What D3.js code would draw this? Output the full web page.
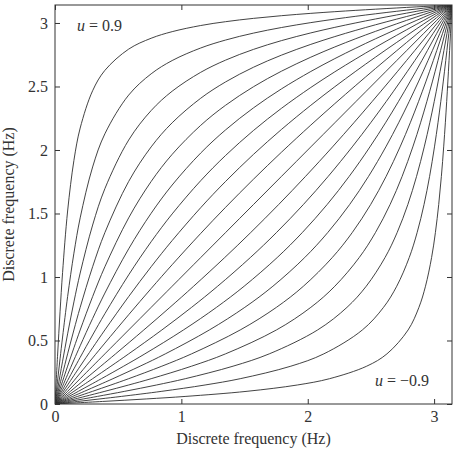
<!DOCTYPE html>
<html>
<head>
<meta charset="utf-8">
<script src="https://cdnjs.cloudflare.com/ajax/libs/d3/7.8.5/d3.min.js"></script>
<style>
  body { margin: 0; background: #fff; }
  text { font-family: "Liberation Serif", "Times New Roman", serif; fill: #333; }
</style>
</head>
<body>
<div id="chart"></div>
<script>
// input frequency grid (rad), shared by all curves
const freq = [0, 0.0200, 0.0400, 0.0600, 0.0999, 0.1497, 0.1993, 0.2978, 0.3948, 0.5829, 0.7610, 0.9273,
    1.1528, 1.3495, 1.5708, 1.7921, 2.0244, 2.2143, 2.3806, 2.5358, 2.7043, 2.8578, 2.9753, 3.0616, 3.1416];

// warped frequency for positive u (u = 0.1 ... 0.9)
const warp01 = [0, 0.0244, 0.0489, 0.0733, 0.1221, 0.1828, 0.2432, 0.3626, 0.4795, 0.7029, 0.9094, 1.0971,
    1.3427, 1.5483, 1.7701, 1.9825, 2.1962, 2.3650, 2.5090, 2.6410, 2.7819, 2.9089, 3.0054, 3.0762, 3.1416];
const warp02 = [0, 0.0300, 0.0600, 0.0899, 0.1497, 0.2241, 0.2978, 0.4426, 0.5829, 0.8457, 1.0808, 1.2870,
    1.5455, 1.7521, 1.9656, 2.1617, 2.3520, 2.4981, 2.6204, 2.7308, 2.8474, 2.9517, 3.0306, 3.0883, 3.1416];
const warp03 = [0, 0.0371, 0.0743, 0.1113, 0.1852, 0.2768, 0.3672, 0.5434, 0.7113, 1.0166, 1.2778, 1.4968,
    1.7580, 1.9567, 2.1537, 2.3281, 2.4923, 2.6156, 2.7173, 2.8082, 2.9034, 2.9880, 3.0519, 3.0985, 3.1416];
const warp04 = [0, 0.0467, 0.0933, 0.1398, 0.2323, 0.3465, 0.4585, 0.6734, 0.8733, 1.2215, 1.5019, 1.7243,
    1.9758, 2.1580, 2.3318, 2.4810, 2.6182, 2.7194, 2.8020, 2.8753, 2.9517, 3.0193, 3.0702, 3.1073, 3.1416];
const warp05 = [0, 0.0600, 0.1199, 0.1795, 0.2978, 0.4426, 0.5829, 0.8457, 1.0808, 1.4656, 1.7521, 1.9656,
    2.1939, 2.3520, 2.4981, 2.6204, 2.7308, 2.8113, 2.8765, 2.9340, 2.9937, 3.0464, 3.0861, 3.1149, 3.1416];
const warp06 = [0, 0.0800, 0.1597, 0.2389, 0.3948, 0.5829, 0.7610, 1.0808, 1.3495, 1.7521, 2.0244, 2.2143,
    2.4072, 2.5358, 2.6516, 2.7468, 2.8316, 2.8929, 2.9423, 2.9857, 3.0306, 3.0702, 3.0999, 3.1216, 3.1416];
const warp07 = [0, 0.1132, 0.2257, 0.3368, 0.5522, 0.8037, 1.0311, 1.4090, 1.6956, 2.0781, 2.3106, 2.4630,
    2.6114, 2.7074, 2.7922, 2.8611, 2.9219, 2.9656, 3.0007, 3.0314, 3.0632, 3.0912, 3.1122, 3.1275, 3.1416];
const warp08 = [0, 0.1795, 0.3562, 0.5274, 0.8457, 1.1875, 1.4656, 1.8665, 2.1274, 2.4322, 2.5997, 2.7043,
    2.8030, 2.8656, 2.9203, 2.9643, 3.0029, 3.0306, 3.0528, 3.0722, 3.0922, 3.1098, 3.1231, 3.1327, 3.1416];
const warp09 = [0, 0.3755, 0.7263, 1.0361, 1.5195, 1.9178, 2.1726, 2.4667, 2.6269, 2.7942, 2.8799, 2.9318,
    2.9800, 3.0102, 3.0364, 3.0574, 3.0758, 3.0890, 3.0995, 3.1087, 3.1182, 3.1266, 3.1328, 3.1374, 3.1416];

const xTicks = [0, 1, 2, 3];
const yTicks = [0, 0.5, 1, 1.5, 2, 2.5, 3];
const axisTitle = "Discrete frequency (Hz)";

const W = 458, H = 456;
const plot = { left: 55, right: 452, top: 5, bottom: 404 };
const fontSize = "16px";

const svg = d3.select("#chart")
    .append("svg")
    .attr("width", W)
    .attr("height", H);

const x = d3.scaleLinear().domain([0, Math.PI]).range([plot.left, plot.right]);
const y = d3.scaleLinear().domain([0, Math.PI]).range([plot.bottom, plot.top]);

// curves: u > 0 as stored, u < 0 is the inverse map (same points, axes swapped)
const positive = [warp01, warp02, warp03, warp04, warp05, warp06, warp07, warp08, warp09];
const curves = [];
curves.push(freq.map(f => [f, f]));
positive.forEach(w => {
    curves.push(freq.map((f, i) => [f, w[i]]));
    curves.push(freq.map((f, i) => [w[i], f]));
});

svg.append("clipPath")
    .attr("id", "clip")
    .append("rect")
    .attr("x", plot.left)
    .attr("y", plot.top)
    .attr("width", plot.right - plot.left)
    .attr("height", plot.bottom - plot.top);

const line = d3.line()
    .x(d => x(d[0]))
    .y(d => y(d[1]))
    .curve(d3.curveCatmullRom.alpha(0.5));

svg.append("g")
    .attr("clip-path", "url(#clip)")
    .selectAll("path")
    .data(curves)
    .join("path")
    .attr("d", line)
    .attr("fill", "none")
    .attr("stroke", "#2e2e2e")
    .attr("stroke-width", 0.9);

// axes with inward ticks
const xAxis = svg.append("g")
    .attr("transform", `translate(0,${plot.bottom})`)
    .call(d3.axisBottom(x).tickValues(xTicks).tickSizeInner(-5).tickSizeOuter(0).tickPadding(7).tickFormat(d3.format("")));
const xTop = svg.append("g")
    .attr("transform", `translate(0,${plot.top})`)
    .call(d3.axisTop(x).tickValues(xTicks).tickSizeInner(-5).tickSizeOuter(0).tickFormat(""));
const yAxis = svg.append("g")
    .attr("transform", `translate(${plot.left},0)`)
    .call(d3.axisLeft(y).tickValues(yTicks).tickSizeInner(-5).tickSizeOuter(0).tickPadding(7).tickFormat(d3.format("")));
const yRight = svg.append("g")
    .attr("transform", `translate(${plot.right},0)`)
    .call(d3.axisRight(y).tickValues(yTicks).tickSizeInner(-5).tickSizeOuter(0).tickFormat(""));

[xAxis, xTop, yAxis, yRight].forEach(g => {
    g.select(".domain").remove();
    g.selectAll(".tick line").attr("stroke", "#333");
    g.selectAll("text")
        .style("font-family", "'Liberation Serif', serif")
        .style("font-size", fontSize)
        .attr("fill", "#333");
});

svg.append("rect")
    .attr("x", plot.left)
    .attr("y", plot.top)
    .attr("width", plot.right - plot.left)
    .attr("height", plot.bottom - plot.top)
    .attr("fill", "none")
    .attr("stroke", "#333")
    .attr("stroke-width", 1);

// axis titles
svg.append("text")
    .attr("x", (plot.left + plot.right) / 2)
    .attr("y", 444)
    .attr("text-anchor", "middle")
    .style("font-size", fontSize)
    .text(axisTitle);

svg.append("text")
    .attr("transform", `translate(14,${(plot.top + plot.bottom) / 2}) rotate(-90)`)
    .attr("text-anchor", "middle")
    .style("font-size", fontSize)
    .text(axisTitle);

// curve labels
function label(xp, yp, value) {
    const t = svg.append("text")
        .attr("x", xp)
        .attr("y", yp)
        .style("font-size", fontSize);
    t.append("tspan").style("font-style", "italic").text("u");
    t.append("tspan").text(" = " + value);
}
label(77, 31, "0.9");
label(375, 386, "\u22120.9");
</script>
</body>
</html>
